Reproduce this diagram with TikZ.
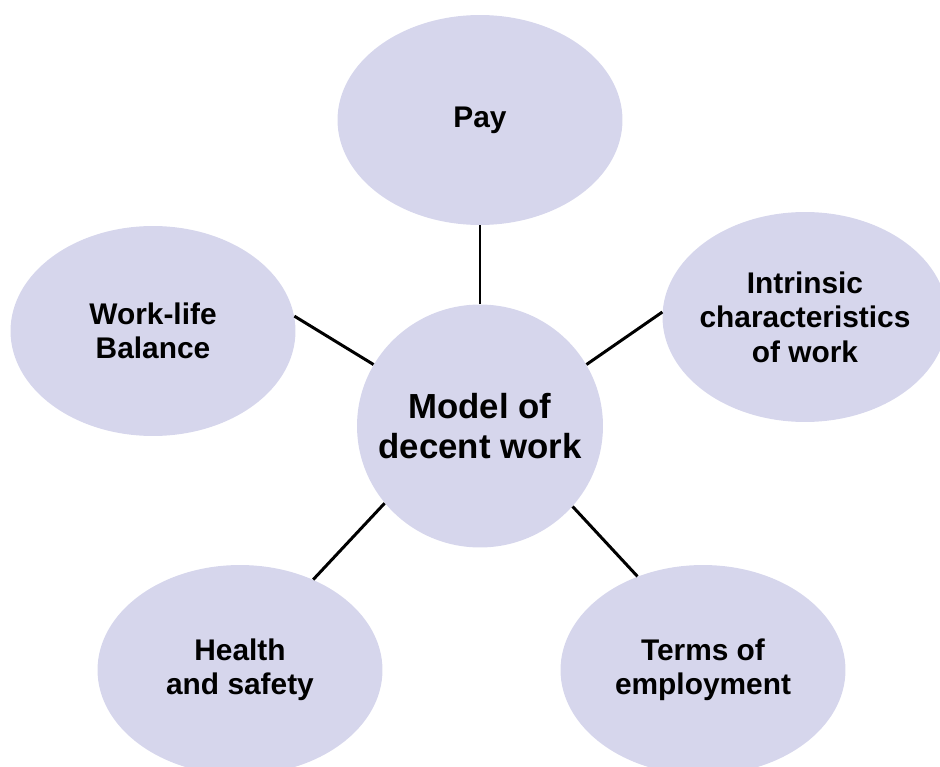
\documentclass[tikz,border=0pt]{standalone}
\usepackage{fontspec}
\setmainfont{Liberation Sans}
\usetikzlibrary{shapes.geometric}

\definecolor{blasslila}{HTML}{D6D6EC}

\begin{document}
\begin{tikzpicture}[x=0.02cm,y=-0.02cm,
    feld/.style={ellipse, inner sep=0pt, minimum width=5.7cm, minimum height=4.2cm,
                 fill=blasslila,
                 label={[align=center, font=\bfseries\fontsize{17}{19.6}\selectfont]center:#1}},
    mitte/.style={ellipse, inner sep=0pt, minimum width=4.92cm, minimum height=4.86cm,
                 fill=blasslila,
                 label={[align=center, font=\bfseries\fontsize{19.8}{22.8}\selectfont]center:#1}},
    linie/.style={line width=1.7pt, black},
]

\useasboundingbox (0,0) rectangle (940,767);
\clip (0,0) rectangle (940,767);

\node [feld={Pay}] (pay) at (480,120){};
\node [feld={Work-life\\Balance}] (balance) at (153,331){};
\node [feld={Intrinsic\\characteristics\\of work}] (intrinsic) at (805,317){};
\node [feld={Health\\and safety}] (health) at (240,670){};
\node [feld={Terms of\\employment}] (terms) at (703,670){};

\node [mitte={Model of\\decent work}] (model) at (480,426){};

\draw [linie] (model.90) -- (pay.270);
\draw [linie] (model.150) -- (balance.6);
\draw [linie] (model.30) -- (intrinsic.178);
\draw [linie] (model.219) -- (health.51);
\draw [linie] (model.319) -- (terms.125);

\end{tikzpicture}
\end{document}
